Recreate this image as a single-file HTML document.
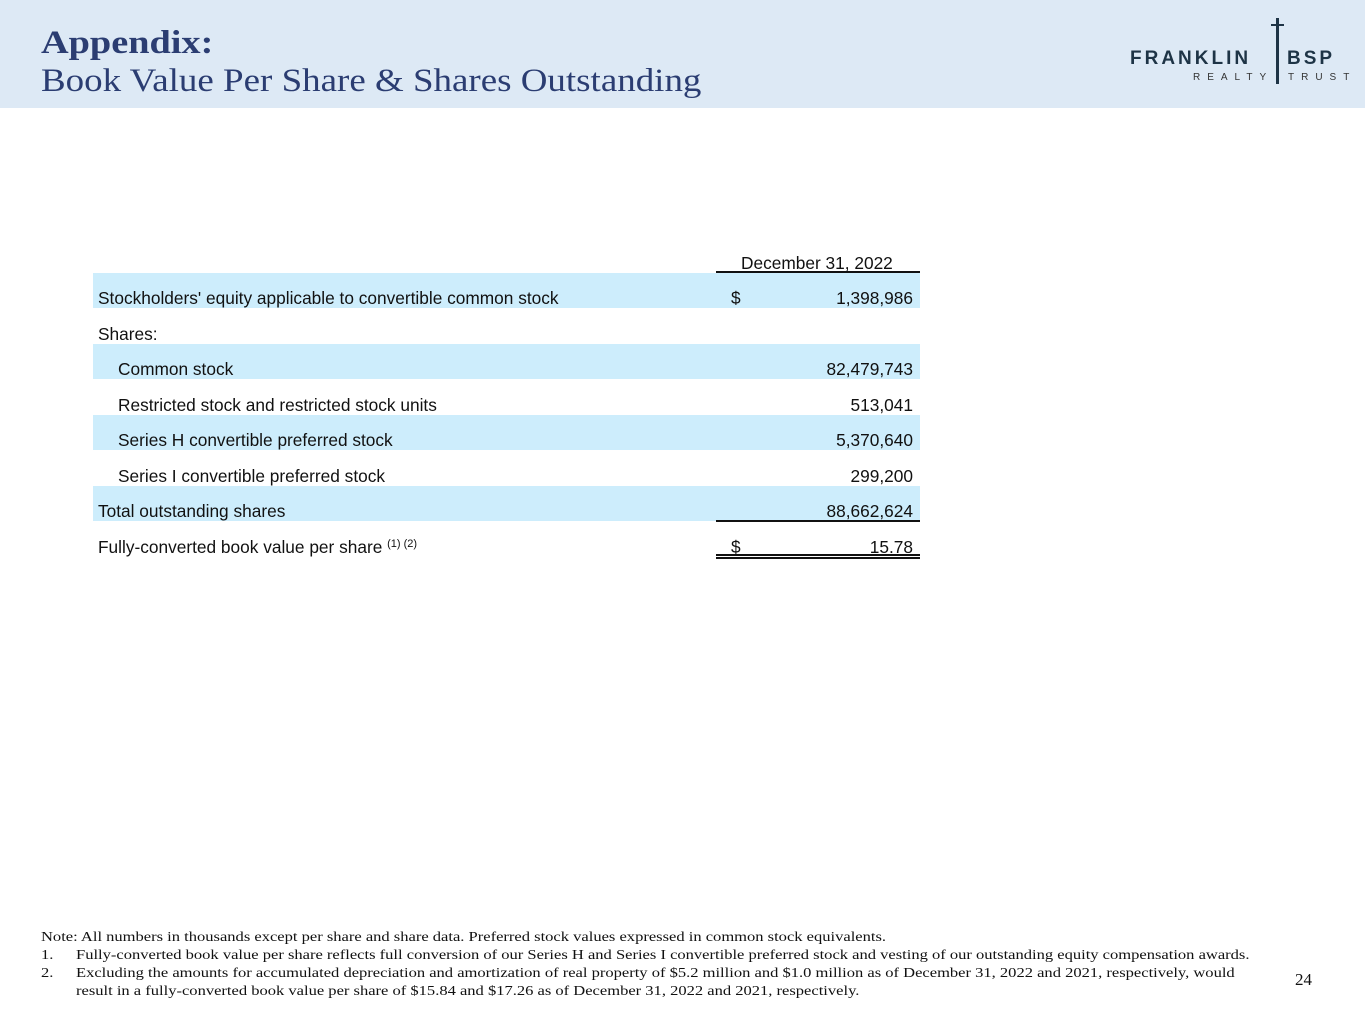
<!DOCTYPE html>
<html><head><meta charset="utf-8"><style>
body{margin:0;width:1365px;height:1024px;position:relative;background:#fff;font-family:"Liberation Sans",sans-serif;overflow:hidden}
.a{position:absolute}
.band{position:absolute;left:93px;width:827px;height:35px;background:#cdedfc}
.lbl{position:absolute;font-size:17.3px;color:#111;line-height:20px;white-space:nowrap}
.val{position:absolute;right:452px;font-size:17.3px;color:#111;line-height:20px;text-align:right}
.ln{position:absolute;left:716px;width:204px;height:1.5px;background:#111}
.fn{position:absolute;font-family:"Liberation Serif",serif;font-size:14px;color:#111;line-height:18px;transform-origin:0 0;transform:scaleX(1.18);white-space:nowrap}
</style></head><body>
<div class="a" style="left:0;top:0;width:1365px;height:108px;background:#dde9f5"></div>
<div class="a" style="left:41px;top:24px;font-family:'Liberation Serif',serif;color:#2b3d72;font-size:33px;line-height:38px;white-space:nowrap">
 <div style="transform-origin:0 0;transform:scaleX(1.16);font-weight:bold">Appendix:</div>
 <div style="transform-origin:0 0;transform:scaleX(1.12)">Book Value Per Share &amp; Shares Outstanding</div>
</div>
<div class="a" style="left:1130px;top:18px;width:220px;height:70px">
 <div class="a" style="left:0;top:30px;font-size:19px;font-weight:bold;letter-spacing:3px;color:#1e3446">FRANKLIN</div>
 <div class="a" style="left:146px;top:0;width:3px;height:66px;background:#1e3446"></div>
 <div class="a" style="left:141px;top:6px;width:13px;height:2px;background:#1e3446"></div>
 <div class="a" style="left:157px;top:30px;font-size:19px;font-weight:bold;letter-spacing:3px;color:#1e3446">BSP</div>
 <div class="a" style="left:63px;top:54px;font-size:10px;letter-spacing:7px;color:#333">REALTY</div>
 <div class="a" style="left:158px;top:54px;font-size:10px;letter-spacing:7px;color:#333">TRUST</div>
</div>
<div>
<div class="lbl" style="left:741px;top:253px">December 31, 2022</div>
<div class="ln" style="top:271px"></div>
<div class="band" style="top:273px"></div>
<div class="band" style="top:344px"></div>
<div class="band" style="top:415px"></div>
<div class="band" style="top:486px"></div>
<div class="lbl" style="left:98px;top:288px">Stockholders' equity applicable to convertible common stock</div>
<div class="lbl" style="left:731px;top:288px">$</div>
<div class="val" style="top:288px">1,398,986</div>
<div class="lbl" style="left:98px;top:324px">Shares:</div>
<div class="lbl" style="left:118px;top:359px">Common stock</div>
<div class="val" style="top:359px">82,479,743</div>
<div class="lbl" style="left:118px;top:395px">Restricted stock and restricted stock units</div>
<div class="val" style="top:395px">513,041</div>
<div class="lbl" style="left:118px;top:430px">Series H convertible preferred stock</div>
<div class="val" style="top:430px">5,370,640</div>
<div class="lbl" style="left:118px;top:466px">Series I convertible preferred stock</div>
<div class="val" style="top:466px">299,200</div>
<div class="lbl" style="left:98px;top:501px">Total outstanding shares</div>
<div class="val" style="top:501px">88,662,624</div>
<div class="ln" style="top:520px"></div>
<div class="lbl" style="left:98px;top:537px">Fully-converted book value per share <span style="font-size:11px;position:relative;top:-6px">(1) (2)</span></div>
<div class="lbl" style="left:731px;top:537px">$</div>
<div class="val" style="top:537px">15.78</div>
<div class="ln" style="top:554px"></div>
<div class="ln" style="top:557px"></div>
</div>
<div class="fn" style="left:41px;top:929px">Note: All numbers in thousands except per share and share data. Preferred stock values expressed in common stock equivalents.</div>
<div class="fn" style="left:41px;top:947px">1.</div>
<div class="fn" style="left:76px;top:947px">Fully-converted book value per share reflects full conversion of our Series H and Series I convertible preferred stock and vesting of our outstanding equity compensation awards.</div>
<div class="fn" style="left:41px;top:965px">2.</div>
<div class="fn" style="left:76px;top:965px">Excluding the amounts for accumulated depreciation and amortization of real property of $5.2 million and $1.0 million as of December 31, 2022 and 2021, respectively, would<br>result in a fully-converted book value per share of $15.84 and $17.26 as of December 31, 2022 and 2021, respectively.</div>
<div class="a" style="left:1295px;top:970px;font-family:'Liberation Serif',serif;font-size:17px;color:#111">24</div>
</body></html>
